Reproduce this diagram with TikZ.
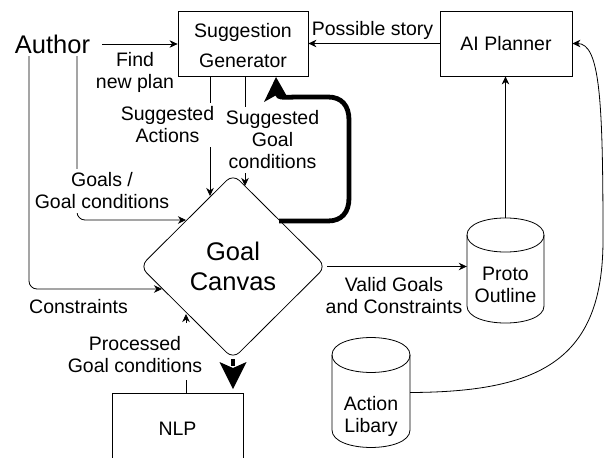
\documentclass[tikz,border=0pt]{standalone}
\usepackage{fontspec}
\setmainfont{Liberation Sans}
\usetikzlibrary{arrows.meta,shapes.geometric}
\begin{document}
\begin{tikzpicture}[x=1pt,y=-1pt,
  lbl/.style={font=\fontsize{19.5}{22}\selectfont, align=center, inner sep=0pt},
  lblw/.style={lbl, fill=white, inner sep=4pt},
  bigtxt/.style={font=\fontsize{25.5}{30}\selectfont, align=center, inner sep=0pt},
  box/.style={draw, line width=0.8pt, inner sep=0pt, font=\fontsize{19.5}{22}\selectfont},
  arr/.style={line width=0.8pt, -{Stealth[length=8pt,width=7.5pt,inset=2.5pt]}},
  thickline/.style={line width=4.8pt},
  headfill/.style={fill=black},
  cyl/.style={draw, line width=0.8pt}
]
\useasboundingbox (0,0) rectangle (606,458);

% boxes
\node[box, minimum width=130pt, minimum height=65pt] (SG) at (243,43.5) {};
\node[lbl, font=\fontsize{19.5}{30}\selectfont] (SGt) at (243,46) {Suggestion\\Generator};
\node[box, minimum width=132pt, minimum height=65pt] (AI) at (506,43.5) {AI Planner};
\node[box, minimum width=131pt, minimum height=72pt] (NLP) at (177.5,429) {NLP};
\node[bigtxt] (author) at (52.5,44) {Author};

% diamond
\node[draw, diamond, aspect=1, minimum width=186pt, minimum height=185pt,
      rounded corners=9pt, inner sep=0pt, line width=0.8pt,
      font=\fontsize{25.5}{30}\selectfont, align=center] (GC) at (233,266.5) {Goal\\Canvas};

% cylinders
\draw[cyl] (467,235) -- (467,306) .. controls (467,328.7) and (544,328.7) .. (544,306)
  -- (544,235) .. controls (544,212.3) and (467,212.3) .. (467,235) -- cycle;
\draw[cyl] (467,235) .. controls (467,257.7) and (544,257.7) .. (544,235);
\node[minimum width=77pt, minimum height=105pt, inner sep=0pt] (PO) at (505.5,270.5) {};
\node[lbl] (POt) at (505.5,285) {Proto\\Outline};

\draw[cyl] (332,355) -- (332,430) .. controls (332,453.3) and (410,453.3) .. (410,430)
  -- (410,355) .. controls (410,331.7) and (332,331.7) .. (332,355) -- cycle;
\draw[cyl] (332,355) .. controls (332,378.3) and (410,378.3) .. (410,355);
\node[minimum width=78pt, minimum height=111pt, inner sep=0pt] (AL) at (371,392.5) {};
\node[lbl] (ALt) at (371,416) {Action\\Libary};

% coordinates on the diamond border and free ends
\coordinate (a1) at (29,56);
\coordinate (a2) at (77,56);
\coordinate (c1) at (162,289);
\coordinate (c2) at (186,220);
\coordinate (c3) at (210,196);
\coordinate (c4) at (245,186);
\coordinate (c5) at (186,314);
\coordinate (c6) at (279,221);
\coordinate (c7) at (276.5,93);
\coordinate (p1) at (186,380);
\coordinate (p2) at (186,323);
\coordinate (b1) at (233,366);

% connectors
\draw[arr, shorten <=12pt] (author.east) -- (author.east -| SG.west);
\draw[arr] (AI.west) -- (SG.east);
\draw[arr] (PO.north) -- (PO.north |- AI.south);
\draw[arr, shorten <=1pt] (GC.east) -- (GC.east -| PO.west);
\draw[arr, rounded corners=8pt] (a1) |- (c1);
\draw[arr, rounded corners=8pt] (a2) |- (c2);
\draw[arr] ([xshift=-33pt]SG.south) -- (c3);
\draw[arr] ([xshift=2pt]SG.south) -- (c4);
\draw[line width=0.8pt] ([xshift=8.5pt]NLP.north) -- (p1);
\draw[arr] (p2) -- (c5);

% thick connector: Goal Canvas -> NLP
\draw[thickline] (GC.south) -- (b1);
\fill[headfill] (233,389) -- (246.5,362) -- (233,368) -- (219.5,362) -- cycle;

% thick connector: Goal Canvas -> Suggestion Generator
\draw[thickline] (c6) -- (328,221) .. controls (342,221) and (349,212) .. (349,198)
  -- (349,120) .. controls (349,106) and (342,97) .. (328,97)
  -- (298,97) .. controls (286,97) and (278,99) .. (c7);
\fill[headfill] (276,77) -- (288.5,99) -- (276.5,95) -- (264,102) -- cycle;

\draw[arr] (AL.east) .. controls (540,392) and (603,360) .. (603,240)
  .. controls (603,100) and (600,43.5) .. (AI.east);

% labels
\node[lbl] (l1) at (372.5,30) {Possible story};
\node[lbl] (l2) at (135,72) {Find\\new plan};
\node[lblw] (l3) at (167.5,125) {Suggested\\Actions};
\node[lblw] (l4) at (272.5,140) {Suggested\\Goal\\conditions};
\node[lblw] (l5) at (102,191) {Goals /\\Goal conditions};
\node[lbl] (l6) at (78.5,307) {Constraints};
\node[lbl] (l7) at (135,355) {Processed\\Goal conditions};
\node[lbl] (l8) at (394,296) {Valid Goals\\and Constraints};
\end{tikzpicture}
\end{document}
